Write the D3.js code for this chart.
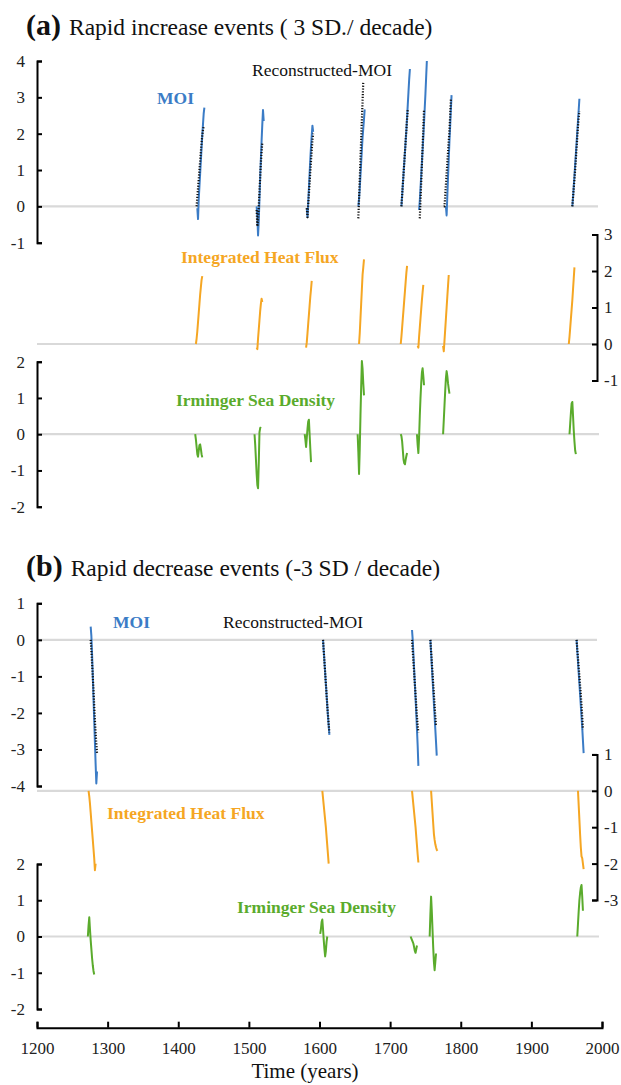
<!DOCTYPE html>
<html><head><meta charset="utf-8">
<script src="https://cdn.jsdelivr.net/npm/d3@7"></script>
<style>
body{margin:0;background:#fff;}
svg{display:block;font-family:"Liberation Serif","Times New Roman",serif;}
</style></head>
<body><svg id="c" width="621" height="1085"></svg>
<script>
// ---------- DATA ----------
const xTicks = [1200,1300,1400,1500,1600,1700,1800,1900,2000];
const moiTicksA = [-1,0,1,2,3,4];
const hfTicksA = [-1,0,1,2,3];
const irmTicks = [-2,-1,0,1,2];
const moiTicksB = [-4,-3,-2,-1,0,1];
const hfTicksB = [-3,-2,-1,0,1];

// (a) rapid increase events: start year of each event + annual values
const incMoiStart = [1427,1511,1582,1655,1716,1741,1779,1958];
const incMoi = [
  [-0.05,-0.35,0.2,0.55,0.9,1.25,1.6,1.95,2.25,2.55,2.72],
  [0.0,-0.3,-0.8,-0.4,0.2,0.8,1.3,1.8,2.25,2.65,2.35],
  [-0.05,-0.3,0.1,0.5,0.9,1.3,1.65,1.95,2.22,2.05],
  [0.0,0.2,0.5,0.85,1.2,1.55,1.9,2.15,2.4,2.67],
  [0.0,0.3,0.6,0.9,1.2,1.5,1.8,2.1,2.45,2.8,3.15,3.5,3.78],
  [-0.1,0.15,0.5,0.85,1.2,1.55,1.9,2.3,2.7,3.1,3.55,4.0],
  [0.0,-0.25,0.3,0.8,1.3,1.8,2.2,2.65,3.06],
  [0.0,0.25,0.55,0.85,1.15,1.45,1.75,2.05,2.35,2.65,2.96]
];
const incRecStart = [1426,1511,1582,1655,1716,1742,1776,1958];
const incRec = [
  [0.0,0.25,0.5,0.75,1.0,1.25,1.5,1.75,1.95,2.1,2.2],
  [-0.1,-0.55,-0.35,0.0,0.4,0.8,1.2,1.5,1.75],
  [-0.05,-0.3,0.05,0.35,0.65,0.95,1.25,1.55,1.8,2.0],
  [-0.33,0.2,0.75,1.3,1.85,2.4,2.9,3.44],
  [0.0,0.3,0.6,0.9,1.2,1.5,1.8,2.1,2.4,2.67],
  [-0.33,0.15,0.65,1.15,1.65,2.15,2.67],
  [0.0,0.0,0.3,0.6,0.9,1.2,1.5,1.8,2.1,2.5,2.94],
  [0.0,0.25,0.5,0.75,1.0,1.3,1.6,1.9,2.2,2.45,2.62]
];
const incHfStart = [1425,1511,1581,1656,1715,1739,1775,1953];
const incHf = [
  [0.0,0.15,0.35,0.6,0.85,1.1,1.35,1.55,1.75,1.86],
  [-0.1,-0.14,0.15,0.4,0.65,0.9,1.1,1.24,1.15],
  [-0.1,0.05,0.3,0.55,0.8,1.05,1.3,1.5,1.73],
  [0.0,0.3,0.7,1.1,1.5,1.9,2.1,2.32],
  [0.0,0.2,0.45,0.7,0.95,1.2,1.45,1.7,1.95,2.14],
  [-0.05,-0.1,0.2,0.45,0.7,0.95,1.2,1.42,1.62],
  [-0.05,-0.2,0.1,0.4,0.7,1.0,1.3,1.6,1.89],
  [0.0,0.2,0.45,0.7,0.95,1.2,1.5,1.8,2.1]
];
const incIrmStart = [1424,1508,1579,1654,1715,1738,1775,1954];
const incIrm = [
  [0.0,-0.15,-0.35,-0.55,-0.62,-0.45,-0.3,-0.28,-0.4,-0.55,-0.64],
  [0.0,-0.3,-0.7,-1.1,-1.4,-1.49,-0.8,0.05,0.17,0.2],
  [0.0,-0.15,-0.35,-0.1,0.15,0.35,0.4,0.0,-0.4,-0.77],
  [0.0,-0.5,-1.1,-0.4,0.5,1.3,2.02,1.8,1.4,1.07],
  [0.0,-0.05,-0.2,-0.45,-0.7,-0.8,-0.83,-0.7,-0.6,-0.52],
  [0.0,-0.3,-0.52,-0.1,0.5,1.0,1.4,1.7,1.82,1.6,1.35],
  [0.0,0.4,0.8,1.2,1.55,1.74,1.6,1.4,1.25,1.12],
  [0.0,0.3,0.6,0.85,0.89,0.5,0.1,-0.2,-0.45,-0.55]
];

// (b) rapid decrease events
const decMoiStart = [1276,1605,1731,1757,1964];
const decMoi = [
  [0.36,0.1,-0.4,-1.0,-1.6,-2.2,-2.8,-3.4,-3.93,-3.6],
  [0.0,-0.3,-0.6,-0.9,-1.2,-1.5,-1.8,-2.1,-2.35,-2.6],
  [0.27,0.0,-0.4,-0.8,-1.2,-1.6,-2.0,-2.45,-2.9,-3.45],
  [0.0,-0.35,-0.7,-1.05,-1.4,-1.75,-2.1,-2.45,-2.8,-3.17],
  [0.0,-0.3,-0.6,-0.9,-1.2,-1.5,-1.8,-2.1,-2.4,-2.75,-3.1]
];
const decRecStart = [1276,1605,1731,1757,1964];
const decRec = [
  [0.0,-0.3,-0.65,-1.0,-1.4,-1.8,-2.2,-2.55,-2.84,-3.1],
  [0.0,-0.3,-0.6,-0.9,-1.2,-1.5,-1.8,-2.05,-2.3,-2.53],
  [0.0,-0.3,-0.6,-0.9,-1.2,-1.5,-1.8,-2.1,-2.35,-2.53],
  [0.0,-0.3,-0.6,-0.9,-1.2,-1.5,-1.8,-2.1,-2.35],
  [0.0,-0.25,-0.5,-0.75,-1.0,-1.25,-1.5,-1.8,-2.1,-2.45]
];
const decHfStart = [1273,1604,1731,1758,1966];
const decHf = [
  [0.0,-0.15,-0.35,-0.6,-0.85,-1.1,-1.35,-1.6,-1.85,-2.18,-2.0],
  [0.0,-0.2,-0.4,-0.6,-0.8,-1.0,-1.25,-1.5,-1.75,-2.0],
  [0.0,-0.2,-0.4,-0.6,-0.8,-1.0,-1.25,-1.5,-1.75,-1.97],
  [0.0,-0.3,-0.6,-0.9,-1.19,-1.35,-1.47,-1.55,-1.62,-1.65],
  [0.0,-0.4,-0.8,-1.2,-1.55,-1.8,-1.85,-2.0,-2.15]
];
const decIrmStart = [1272,1601,1729,1756,1965];
const decIrm = [
  [0.0,0.3,0.53,0.2,-0.1,-0.35,-0.6,-0.8,-0.95,-1.05],
  [0.07,0.2,0.4,0.47,0.2,-0.1,-0.35,-0.55,-0.4,-0.15,0.0],
  [0.0,-0.05,-0.1,-0.15,-0.2,-0.3,-0.4,-0.45,-0.35,-0.25],
  [0.0,0.6,1.1,0.7,0.2,-0.3,-0.7,-0.93,-0.7,-0.47],
  [0.0,0.35,0.7,1.0,1.2,1.35,1.42,1.1,0.71]
];

// ---------- DRAW ----------
const C_BLUE = "#3b7cc6", C_ORANGE = "#f5a623", C_GREEN = "#5aab2c", C_GRAY = "#d9d9d9";
const FONT = "'Liberation Serif','Times New Roman',serif";
const svg = d3.select("#c");
const x = d3.scaleLinear().domain([1200,2000]).range([37,602]);
const AX_L = 37, AX_R = 597;

const yMoiA = d3.scaleLinear().domain([-1,4]).range([242.7,61]);
const yHfA  = d3.scaleLinear().domain([-1,3]).range([380.5,234.5]);
const yIrmA = d3.scaleLinear().domain([-2,2]).range([506.7,361.7]);
const yMoiB = d3.scaleLinear().domain([-4,1]).range([786,603.3]);
const yHfB  = d3.scaleLinear().domain([-3,1]).range([900,754.4]);
const yIrmB = d3.scaleLinear().domain([-2,2]).range([1009,864]);

const zeroLines = [[yMoiA,598],[yHfA,597],[yIrmA,599],[yMoiB,597],[yHfB,597],[yIrmB,599]];
zeroLines.forEach(([y,x2]) => {
  svg.append("line").attr("x1",AX_L).attr("x2",x2).attr("y1",y(0)).attr("y2",y(0))
    .attr("stroke",C_GRAY).attr("stroke-width",2.2);
});

function styleAxis(g, fs){
  g.attr("font-family",FONT);
  g.select(".domain").attr("stroke","#000").attr("stroke-width",2);
  g.selectAll(".tick line").attr("stroke","#000").attr("stroke-width",2);
  g.selectAll("text").attr("font-family",FONT).attr("font-size",fs).attr("fill","#222");
}
const fmt = d => String(d);
function leftAxis(y, ticks){
  const g = svg.append("g").attr("transform",`translate(${AX_L},0)`)
    .call(d3.axisLeft(y).tickValues(ticks).tickFormat(fmt).tickSizeInner(-5).tickSizeOuter(-5).tickPadding(12));
  styleAxis(g,17);
}
function rightAxis(y, ticks){
  const g = svg.append("g").attr("transform",`translate(${AX_R},0)`)
    .call(d3.axisRight(y).tickValues(ticks).tickFormat(fmt).tickSizeInner(-5).tickSizeOuter(-5).tickPadding(7));
  styleAxis(g,17);
}
leftAxis(yMoiA, moiTicksA);
rightAxis(yHfA, hfTicksA);
leftAxis(yIrmA, irmTicks);
leftAxis(yMoiB, moiTicksB);
rightAxis(yHfB, hfTicksB);
leftAxis(yIrmB, irmTicks);

const gx = svg.append("g").attr("transform","translate(0,1027.7)")
  .call(d3.axisBottom(x).tickValues(xTicks).tickFormat(fmt).tickSizeInner(-6).tickSizeOuter(-6).tickPadding(14));
styleAxis(gx,17);

function drawEvents(starts, events, y, color, dotted){
  events.forEach((vals,i) => {
    const pts = vals.map((v,j) => ({yr: starts[i]+j, v}));
    const line = d3.line().x(d => x(d.yr)).y(d => y(d.v));
    const p = svg.append("path").datum(pts).attr("d",line).attr("fill","none")
      .attr("stroke",color).attr("stroke-width", dotted ? 2.2 : 2)
      .attr("stroke-linejoin","round");
    if (dotted) p.attr("stroke-dasharray","1.2,1.6");
  });
}
drawEvents(incHfStart, incHf, yHfA, C_ORANGE);
drawEvents(incIrmStart, incIrm, yIrmA, C_GREEN);
drawEvents(incMoiStart, incMoi, yMoiA, C_BLUE);
drawEvents(incRecStart, incRec, yMoiA, "#111", true);
drawEvents(decHfStart, decHf, yHfB, C_ORANGE);
drawEvents(decIrmStart, decIrm, yIrmB, C_GREEN);
drawEvents(decMoiStart, decMoi, yMoiB, C_BLUE);
drawEvents(decRecStart, decRec, yMoiB, "#111", true);

// ---------- TEXT ----------
function title(yb, letter, rest){
  const t = svg.append("text").attr("x",26).attr("y",yb).attr("fill","#111").attr("font-family",FONT);
  t.append("tspan").attr("font-weight","bold").attr("font-size",30).text(letter);
  t.append("tspan").attr("font-size",23.5).attr("dx",8).text(rest);
}
title(35, "(a)", "Rapid increase events ( 3 SD./ decade)");
title(576, "(b)", "Rapid decrease events (-3 SD / decade)");

function label(xp, yb, txt, color, bold){
  svg.append("text").attr("x",xp).attr("y",yb).attr("fill",color).attr("font-family",FONT)
    .attr("font-size",17.5).attr("font-weight",bold?"bold":"normal").text(txt);
}
label(157,104,"MOI",C_BLUE,true);
label(252,76,"Reconstructed-MOI","#111",false);
label(181,263,"Integrated Heat Flux",C_ORANGE,true);
label(176,406,"Irminger Sea Density",C_GREEN,true);
label(113,628,"MOI",C_BLUE,true);
label(223,628,"Reconstructed-MOI","#111",false);
label(107,819,"Integrated Heat Flux",C_ORANGE,true);
label(237,913,"Irminger Sea Density",C_GREEN,true);

svg.append("text").attr("x",305).attr("y",1078).attr("text-anchor","middle").attr("font-family",FONT)
  .attr("font-size",21).attr("fill","#111").text("Time (years)");
</script></body></html>
